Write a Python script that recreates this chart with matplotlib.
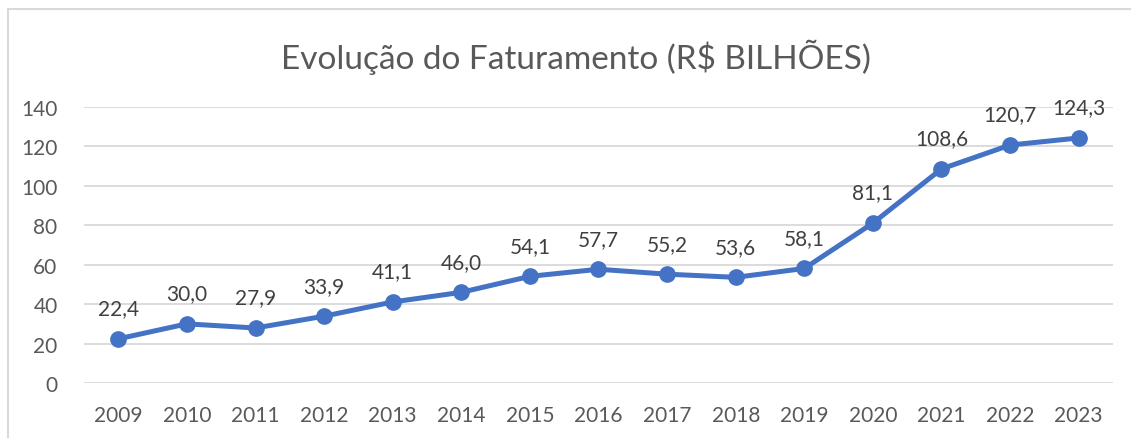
import matplotlib.pyplot as plt
from matplotlib.patches import Rectangle

# Data
anos = ['2009', '2010', '2011', '2012', '2013', '2014', '2015', '2016',
        '2017', '2018', '2019', '2020', '2021', '2022', '2023']
faturamento = [22.4, 30.0, 27.9, 33.9, 41.1, 46.0, 54.1, 57.7,
               55.2, 53.6, 58.1, 81.1, 108.6, 120.7, 124.3]
yticks = [0, 20, 40, 60, 80, 100, 120, 140]

plt.rcParams['font.family'] = ['Lato', 'DejaVu Sans']

W, H = 1131, 439
fig = plt.figure(figsize=(W / 100, H / 100), dpi=100)
ax = fig.add_axes([84 / W, 55 / H, (1113 - 84) / W, (384 - 108) / H])

x = list(range(len(anos)))
ax.plot(x, faturamento, color='#4472C4', linewidth=3.6, marker='o',
        markersize=11, solid_capstyle='round', zorder=3)

for xi, v in zip(x, faturamento):
    ax.annotate(f'{v:.1f}'.replace('.', ','), (xi, v), xytext=(0, 22),
                textcoords='offset points', ha='center', va='center',
                fontsize=15, color='#404040')

ax.set_xlim(-0.5, len(anos) - 0.5)
ax.set_ylim(0, 140)
ax.set_xticks(x)
ax.set_xticklabels(anos)
ax.set_yticks(yticks)
ax.tick_params(axis='both', length=0, labelsize=15, labelcolor='#595959')
ax.tick_params(axis='x', pad=16)
ax.tick_params(axis='y', pad=19)
ax.grid(axis='y', color='#D9D9D9', linewidth=1.3)
ax.set_axisbelow(True)
for s in ax.spines.values():
    s.set_visible(False)

fig.text(576 / W, 1 - 57 / H, 'Evolução do Faturamento (R$ BILHÕES)',
         ha='center', va='center', fontsize=24, color='#595959')

# chart border (top and left visible)
fig.patches.append(Rectangle((7.5 / W, -0.1), 1.2, 1 - 9.5 / H + 0.1,
                             transform=fig.transFigure, fill=False,
                             edgecolor='#D9D9D9', linewidth=1.5))

fig.savefig('out.png', dpi=100)
